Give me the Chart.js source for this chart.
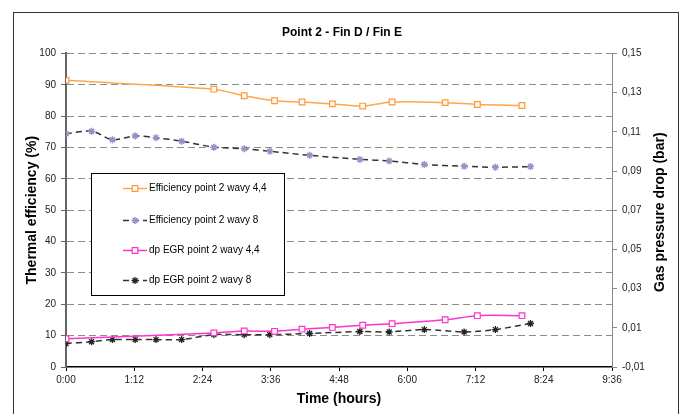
<!DOCTYPE html>
<html>
<head>
<meta charset="utf-8">
<script src="https://cdn.jsdelivr.net/npm/chart.js@4/dist/chart.umd.min.js"></script>
<style>
  html, body { margin: 0; padding: 0; background: #fff; }
  #wrap { position: relative; width: 684px; height: 414px; }
</style>
</head>
<body>
<div id="wrap"><canvas id="chart" width="684" height="414"></canvas></div>
<script>
// time in minutes since start
const timeWavy44 = [0, 156, 188, 220, 249, 281, 313, 344, 400, 434, 481];
const timeWavy8 = [0, 27, 49, 73, 95, 122, 156, 188, 215, 257, 310, 341, 378, 420, 453, 490];

// thermal efficiency (%)
const effWavy44 = [91.4, 88.6, 86.5, 84.9, 84.5, 83.9, 83.2, 84.5, 84.3, 83.7, 83.4];
const effWavy8 = [74.4, 75.2, 72.5, 73.7, 73.1, 72.0, 70.1, 69.6, 68.8, 67.5, 66.2, 65.7, 64.6, 64.0, 63.7, 63.9];

// gas pressure drop (bar)
const dpWavy44 = [0.0044, 0.0074, 0.0084, 0.0082, 0.0093, 0.0102, 0.0113, 0.0121, 0.0141, 0.0162, 0.0162];
const dpWavy8 = [0.0020, 0.0029, 0.0040, 0.0040, 0.0040, 0.0040, 0.0065, 0.0065, 0.0065, 0.0071, 0.0081, 0.0079, 0.0091, 0.0079, 0.0091, 0.0122];

const seriesLabels = [
    'Efficiency point 2 wavy 4,4',
    'Efficiency point 2 wavy 8',
    'dp EGR point 2 wavy 4,4',
    'dp EGR point 2 wavy 8'
];
const xTickLabels = ['0:00', '1:12', '2:24', '3:36', '4:48', '6:00', '7:12', '8:24', '9:36'];

const FONT = "'Liberation Sans', Arial, sans-serif";

const toPoints = (xs, ys) => xs.map((x, i) => ({ x: x, y: ys[i] }));

// frame, floating legend and right-hand title
const extras = {
    id: 'extras',
    beforeDraw(chart) {
        const ctx = chart.ctx;
        ctx.save();
        ctx.fillStyle = '#fff';
        ctx.fillRect(0, 0, chart.width, chart.height);
        ctx.strokeStyle = '#333';
        ctx.lineWidth = 1;
        ctx.strokeRect(13.5, 12.5, 665, 430);
        ctx.restore();
    },
    afterDraw(chart) {
        const ctx = chart.ctx;
        const area = chart.chartArea;

        // right axis title, reading upwards
        ctx.save();
        ctx.translate(660, (area.top + area.bottom) / 2 + 2);
        ctx.rotate(-Math.PI / 2);
        ctx.font = 'bold 14px ' + FONT;
        ctx.fillStyle = '#000';
        ctx.textAlign = 'center';
        ctx.textBaseline = 'middle';
        ctx.fillText('Gas pressure drop (bar)', 0, 0);
        ctx.restore();

        // legend box
        ctx.save();
        ctx.fillStyle = '#fff';
        ctx.fillRect(91, 173, 193, 122);
        ctx.strokeStyle = '#000';
        ctx.lineWidth = 1;
        ctx.strokeRect(91.5, 173.5, 193, 122);
        const rows = [188, 220, 250, 280];
        chart.data.datasets.forEach((ds, i) => {
            const y = rows[i] + 0.5;
            ctx.save();
            ctx.strokeStyle = ds.borderColor;
            ctx.lineWidth = ds.borderWidth;
            ctx.setLineDash(ds.borderDash || []);
            ctx.beginPath();
            ctx.moveTo(123, y);
            ctx.lineTo(147, y);
            ctx.stroke();
            ctx.restore();
            ctx.save();
            ctx.strokeStyle = ds.pointBorderColor;
            ctx.fillStyle = ds.pointBackgroundColor;
            ctx.lineWidth = ds.pointBorderWidth;
            Chart.helpers.drawPoint(ctx, {
                pointStyle: ds.pointStyle,
                radius: ds.pointRadius,
                rotation: 0,
                borderWidth: ds.pointBorderWidth
            }, 135, y);
            ctx.restore();
            ctx.fillStyle = '#000';
            ctx.font = '10px ' + FONT;
            ctx.textAlign = 'left';
            ctx.textBaseline = 'middle';
            ctx.fillText(ds.label, 149, y);
        });
        ctx.restore();
    }
};

new Chart(document.getElementById('chart'), {
    type: 'line',
    data: {
        datasets: [
            {
                label: seriesLabels[0],
                data: toPoints(timeWavy44, effWavy44),
                yAxisID: 'y',
                borderColor: '#FFA64D',
                borderWidth: 1.5,
                pointStyle: 'rect',
                pointRadius: 4,
                pointBorderColor: '#FF9933',
                pointBackgroundColor: '#fff',
                pointBorderWidth: 1.2,
                tension: 0.3
            },
            {
                label: seriesLabels[1],
                data: toPoints(timeWavy8, effWavy8),
                yAxisID: 'y',
                borderColor: '#333',
                borderWidth: 1.5,
                borderDash: [6, 4],
                pointStyle: 'star',
                pointRadius: 3.5,
                pointBorderColor: '#9C8FC9',
                pointBackgroundColor: '#9C8FC9',
                pointBorderWidth: 1.5,
                tension: 0.3
            },
            {
                label: seriesLabels[2],
                data: toPoints(timeWavy44, dpWavy44),
                yAxisID: 'y1',
                borderColor: '#FF33CC',
                borderWidth: 1.5,
                pointStyle: 'rect',
                pointRadius: 4,
                pointBorderColor: '#FF33CC',
                pointBackgroundColor: '#fff',
                pointBorderWidth: 1.2,
                tension: 0.3
            },
            {
                label: seriesLabels[3],
                data: toPoints(timeWavy8, dpWavy8),
                yAxisID: 'y1',
                borderColor: '#333',
                borderWidth: 1.5,
                borderDash: [6, 4],
                pointStyle: 'star',
                pointRadius: 3.5,
                pointBorderColor: '#222',
                pointBackgroundColor: '#222',
                pointBorderWidth: 1.3,
                tension: 0.3
            }
        ]
    },
    options: {
        responsive: false,
        animation: false,
        layout: { padding: 0 },
        plugins: {
            legend: { display: false },
            tooltip: { enabled: false },
            title: {
                display: true,
                text: 'Point 2 - Fin D / Fin E',
                color: '#000',
                font: { family: FONT, size: 12, weight: 'bold' },
                padding: { top: 25, bottom: 14 }
            }
        },
        scales: {
            x: {
                type: 'linear',
                min: 0,
                max: 576,
                afterFit: s => { s.height = 47; },
                border: { color: '#000', width: 1.5 },
                grid: { drawOnChartArea: false, tickLength: 4, tickColor: '#000' },
                ticks: {
                    stepSize: 72,
                    padding: 3,
                    color: '#222',
                    font: { family: FONT, size: 10 },
                    maxRotation: 0,
                    callback: (v, i) => xTickLabels[i]
                },
                title: {
                    display: true,
                    text: 'Time (hours)',
                    color: '#000',
                    font: { family: FONT, size: 14, weight: 'bold' },
                    padding: { top: 0, bottom: 6 }
                }
            },
            y: {
                position: 'left',
                min: 0,
                max: 100,
                afterFit: s => { s.width = 66; },
                border: { color: '#666', width: 2, dash: [7, 4] },
                grid: {
                    color: c => (c.tick && c.tick.value === 0) ? 'rgba(0,0,0,0)' : '#8C8C8C',
                    lineWidth: 1,
                    tickLength: 5,
                    tickColor: '#666',
                    tickBorderDash: []
                },
                ticks: {
                    stepSize: 10,
                    padding: 5,
                    color: '#222',
                    font: { family: FONT, size: 10 }
                },
                title: {
                    display: true,
                    text: 'Thermal efficiency (%)',
                    color: '#000',
                    font: { family: FONT, size: 14, weight: 'bold' },
                    padding: { top: 24, bottom: 0 }
                }
            },
            y1: {
                position: 'right',
                min: -0.01,
                max: 0.15,
                afterFit: s => { s.width = 72; },
                border: { color: '#888', width: 1 },
                grid: { drawOnChartArea: false, tickLength: 5, tickColor: '#888' },
                ticks: {
                    stepSize: 0.02,
                    padding: 5,
                    color: '#222',
                    font: { family: FONT, size: 10 },
                    callback: v => v.toFixed(2).replace('.', ',')
                }
            }
        }
    },
    plugins: [extras]
});
</script>
</body>
</html>
